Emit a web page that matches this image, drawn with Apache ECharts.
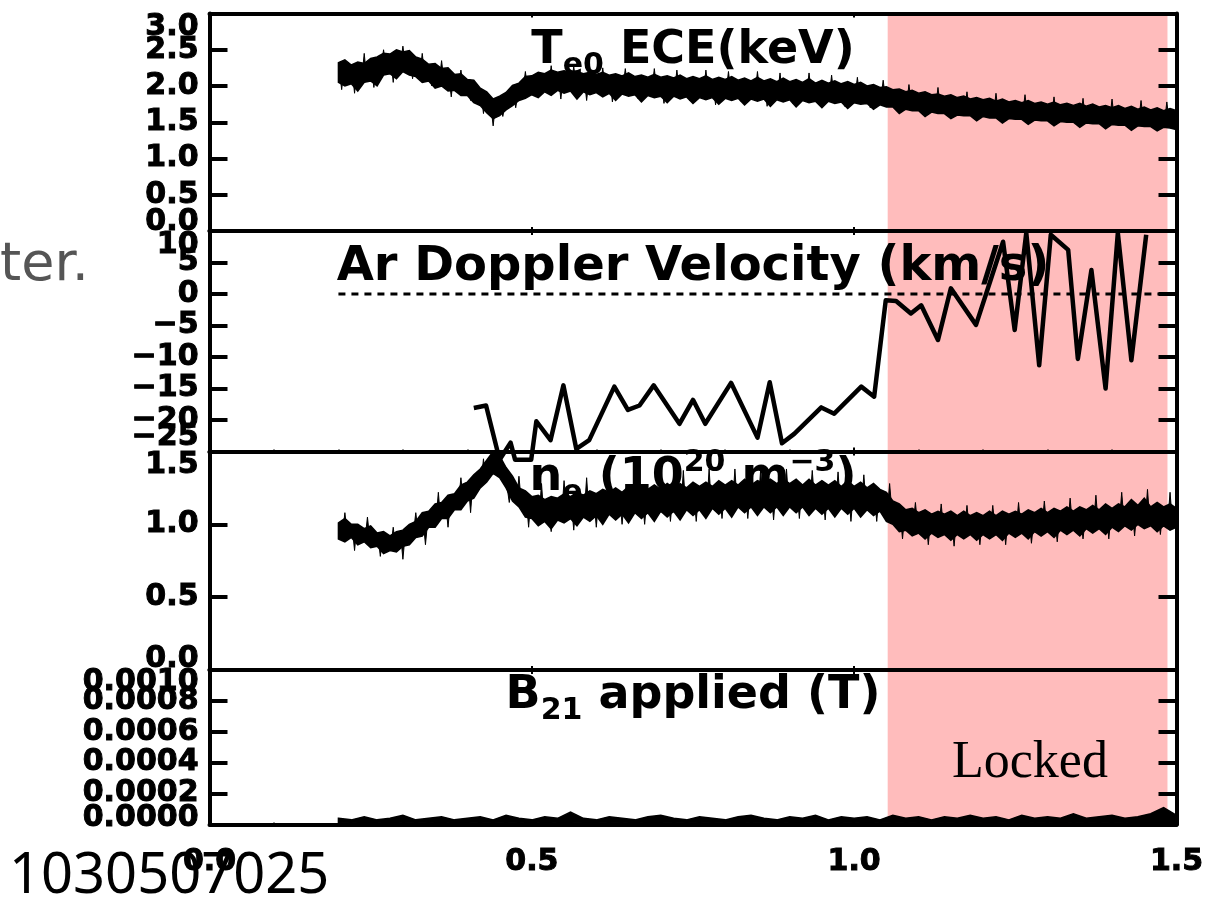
<!DOCTYPE html>
<html><head><meta charset="utf-8">
<script src="https://cdn.jsdelivr.net/npm/echarts@6/dist/echarts.min.js"></script>
<style>html,body{margin:0;padding:0;background:#fff;}#main{width:1215px;height:903px;}</style>
</head><body><div id="main"></div>
<script>
// ---------- data ----------
const T_BAND = [
0.20,0.21,0.22,0.23,0.24,0.25,0.26,0.27,0.28,0.29,
0.30,0.31,0.32,0.33,0.34,0.35,0.36,0.37,0.38,0.39,
0.40,0.41,0.42,0.43,0.44,0.45,0.46,0.47,0.48,0.49,
0.50,0.51,0.52,0.53,0.54,0.55,0.56,0.57,0.58,0.59,
0.60,0.61,0.62,0.63,0.64,0.65,0.66,0.67,0.68,0.69,
0.70,0.71,0.72,0.73,0.74,0.75,0.76,0.77,0.78,0.79,
0.80,0.81,0.82,0.83,0.84,0.85,0.86,0.87,0.88,0.89,
0.90,0.91,0.92,0.93,0.94,0.95,0.96,0.97,0.98,0.99,
1.00,1.01,1.02,1.03,1.04,1.05,1.06,1.07,1.08,1.09,
1.10,1.11,1.12,1.13,1.14,1.15,1.16,1.17,1.18,1.19,
1.20,1.21,1.22,1.23,1.24,1.25,1.26,1.27,1.28,1.29,
1.30,1.31,1.32,1.33,1.34,1.35,1.36,1.37,1.38,1.39,
1.40,1.41,1.42,1.43,1.44,1.45,1.46,1.47,1.48,1.49,
1.50];

const TE_UPPER = [
2.32,2.36,2.29,2.33,2.31,2.38,2.40,2.45,2.44,2.50,
2.47,2.49,2.40,2.37,2.30,2.31,2.24,2.25,2.16,2.17,
2.09,2.08,1.97,1.92,1.82,1.86,1.91,2.01,2.04,2.13,
2.14,2.19,2.17,2.22,2.19,2.21,2.19,2.20,2.17,2.19,
2.16,2.19,2.15,2.17,2.14,2.18,2.13,2.15,2.12,2.16,
2.12,2.14,2.11,2.15,2.10,2.13,2.10,2.14,2.09,2.12,
2.09,2.13,2.08,2.11,2.07,2.12,2.07,2.10,2.06,2.11,
2.06,2.09,2.05,2.10,2.04,2.08,2.04,2.07,2.03,2.06,
2.02,2.05,2.00,2.02,1.98,1.99,1.95,1.96,1.92,1.94,
1.90,1.92,1.88,1.89,1.86,1.88,1.84,1.86,1.82,1.84,
1.81,1.83,1.79,1.82,1.78,1.80,1.77,1.80,1.76,1.78,
1.75,1.78,1.74,1.76,1.73,1.76,1.72,1.75,1.71,1.73,
1.70,1.73,1.69,1.72,1.68,1.71,1.67,1.70,1.66,1.69,
1.66];
const TE_LOWER = [
2.05,2.00,2.03,1.93,2.05,2.07,2.00,2.15,2.17,2.10,
2.20,2.15,2.13,2.05,2.07,1.97,2.00,1.93,1.94,1.87,
1.87,1.77,1.73,1.63,1.55,1.59,1.67,1.73,1.80,1.83,
1.88,1.84,1.92,1.87,1.94,1.90,1.93,1.82,1.92,1.88,
1.91,1.85,1.90,1.80,1.89,1.86,1.88,1.78,1.87,1.84,
1.86,1.77,1.86,1.82,1.85,1.76,1.84,1.81,1.84,1.75,
1.83,1.80,1.83,1.74,1.82,1.79,1.82,1.72,1.81,1.78,
1.81,1.71,1.80,1.77,1.79,1.70,1.79,1.76,1.78,1.69,
1.77,1.75,1.76,1.68,1.74,1.71,1.71,1.62,1.68,1.66,
1.66,1.58,1.64,1.62,1.62,1.55,1.60,1.59,1.59,1.52,
1.58,1.56,1.56,1.49,1.55,1.54,1.54,1.47,1.53,1.52,
1.52,1.45,1.51,1.50,1.50,1.43,1.49,1.48,1.48,1.41,
1.47,1.46,1.46,1.39,1.45,1.44,1.44,1.38,1.43,1.42,
1.40];
const TE_SPIKE_T = [0.205,0.225,0.240,0.255,0.270,0.285,0.300,0.315,0.330,0.345,
0.360,0.375,0.390,0.405,0.425,0.440,0.455,0.475,0.490,0.510,
0.530,0.545,0.565,0.585,0.610,0.625,0.645,0.665,0.690,0.705,
0.725,0.745,0.770,0.785,0.805,0.825,0.850,0.865,0.885,0.905,
0.930,0.945,0.965,0.985,1.005,1.025,1.045,1.065,1.085,1.105,
1.130,1.150,1.175,1.195,1.220,1.240,1.265,1.285,1.310,1.330,
1.355,1.375,1.400,1.420,1.445,1.465,1.485,1.495];
const TE_SPIKE_V = [1.95,1.90,2.45,1.98,2.50,2.05,2.55,2.10,2.45,2.00,
2.35,1.85,2.22,1.80,1.62,1.45,1.58,1.70,2.20,1.85,
2.28,1.82,2.27,1.80,2.25,1.78,2.24,1.82,2.24,1.76,
2.22,1.80,2.22,1.74,2.20,1.78,2.20,1.72,2.18,1.76,
2.18,1.74,2.15,1.72,2.12,1.70,2.08,1.68,2.02,1.62,
1.98,1.62,1.92,1.58,1.90,1.55,1.88,1.55,1.85,1.50,
1.83,1.50,1.82,1.48,1.80,1.45,1.78,1.47];

const NE_UPPER = [
1.01,1.04,1.00,1.00,0.97,0.99,0.94,0.95,0.92,0.95,
0.96,1.00,1.02,1.08,1.09,1.14,1.15,1.20,1.21,1.27,
1.29,1.34,1.38,1.44,1.50,1.47,1.39,1.33,1.25,1.23,
1.19,1.20,1.17,1.19,1.18,1.21,1.19,1.22,1.20,1.23,
1.21,1.24,1.22,1.25,1.22,1.26,1.23,1.26,1.24,1.27,
1.24,1.28,1.25,1.28,1.25,1.29,1.26,1.29,1.26,1.30,
1.27,1.30,1.27,1.31,1.27,1.30,1.28,1.31,1.28,1.31,
1.28,1.31,1.27,1.31,1.27,1.30,1.27,1.30,1.26,1.30,
1.26,1.29,1.25,1.28,1.24,1.22,1.16,1.14,1.10,1.11,
1.08,1.10,1.07,1.09,1.07,1.09,1.06,1.09,1.06,1.08,
1.06,1.09,1.06,1.09,1.07,1.09,1.07,1.10,1.08,1.11,
1.08,1.11,1.09,1.12,1.09,1.12,1.10,1.13,1.10,1.14,
1.11,1.14,1.12,1.17,1.13,1.18,1.12,1.15,1.12,1.14,
1.11];
const NE_LOWER = [
0.90,0.88,0.91,0.86,0.88,0.84,0.85,0.80,0.82,0.81,
0.85,0.86,0.91,0.92,0.98,0.98,1.04,1.04,1.10,1.10,
1.16,1.18,1.25,1.29,1.35,1.32,1.25,1.16,1.12,1.05,
1.04,0.99,1.02,0.97,1.03,1.01,1.04,0.99,1.05,1.02,
1.06,1.00,1.07,1.03,1.07,1.01,1.08,1.04,1.08,1.02,
1.09,1.05,1.09,1.03,1.10,1.06,1.10,1.04,1.11,1.07,
1.11,1.05,1.12,1.08,1.12,1.06,1.12,1.08,1.12,1.06,
1.12,1.08,1.12,1.06,1.11,1.07,1.11,1.05,1.11,1.07,
1.11,1.05,1.10,1.06,1.09,1.02,1.00,0.95,0.96,0.92,
0.94,0.90,0.94,0.91,0.93,0.89,0.93,0.90,0.93,0.89,
0.93,0.90,0.93,0.89,0.94,0.91,0.94,0.90,0.95,0.92,
0.95,0.91,0.96,0.93,0.96,0.92,0.97,0.94,0.97,0.93,
0.98,0.95,0.99,0.96,1.00,0.97,0.99,0.95,0.99,0.96,
0.98];
const NE_SPIKE_T = [0.210,0.225,0.245,0.265,0.285,0.300,0.320,0.335,0.355,0.370,
0.390,0.405,0.425,0.445,0.465,0.480,0.495,0.515,0.530,0.550,
0.565,0.585,0.600,0.620,0.640,0.660,0.675,0.700,0.715,0.735,
0.755,0.775,0.795,0.815,0.835,0.855,0.875,0.895,0.915,0.935,
0.955,0.975,0.995,1.015,1.035,1.055,1.075,1.095,1.115,1.135,
1.155,1.175,1.195,1.215,1.235,1.255,1.275,1.295,1.315,1.335,
1.355,1.375,1.395,1.415,1.435,1.455,1.475,1.490];
const NE_SPIKE_V = [1.08,0.82,1.05,0.78,0.98,0.76,1.08,0.86,1.22,0.98,
1.32,1.08,1.45,1.53,1.15,1.33,0.98,1.28,0.95,1.30,
0.96,1.32,0.98,1.34,1.00,1.35,1.00,1.36,1.02,1.37,
1.02,1.38,1.04,1.38,1.04,1.38,1.03,1.38,1.04,1.37,
1.03,1.36,1.02,1.34,1.02,1.28,0.90,1.15,0.86,1.14,
0.85,1.13,0.86,1.13,0.86,1.15,0.87,1.16,0.88,1.18,
0.90,1.20,0.90,1.22,0.92,1.24,0.93,1.22];

const T_B = [
0.20,0.22,0.24,0.26,0.28,0.30,0.32,0.34,0.36,0.38,
0.40,0.42,0.44,0.46,0.48,0.50,0.52,0.54,0.56,0.58,
0.60,0.62,0.64,0.66,0.68,0.70,0.72,0.74,0.76,0.78,
0.80,0.82,0.84,0.86,0.88,0.90,0.92,0.94,0.96,0.98,
1.00,1.02,1.04,1.06,1.08,1.10,1.12,1.14,1.16,1.18,
1.20,1.22,1.24,1.26,1.28,1.30,1.32,1.34,1.36,1.38,
1.40,1.42,1.44,1.46,1.48,1.50];
const B_UPPER = [
4e-5,3e-5,5e-5,3e-5,4e-5,6e-5,3e-5,4e-5,5e-5,3e-5,
4e-5,5e-5,3e-5,6e-5,4e-5,3e-5,5e-5,4e-5,8e-5,4e-5,
3e-5,5e-5,4e-5,3e-5,5e-5,6e-5,4e-5,3e-5,5e-5,4e-5,
3e-5,5e-5,6e-5,4e-5,3e-5,5e-5,4e-5,6e-5,3e-5,5e-5,
4e-5,5e-5,3e-5,6e-5,4e-5,5e-5,3e-5,5e-5,4e-5,6e-5,
4e-5,5e-5,3e-5,6e-5,4e-5,5e-5,4e-5,7e-5,4e-5,5e-5,
6e-5,4e-5,5e-5,7e-5,11e-5,6e-5];
const B_LOWER = [
1.0e-5,1.2e-5,0.8e-5,1.0e-5,1.4e-5,0.9e-5,1.1e-5,1.0e-5,1.3e-5,0.8e-5,
1.0e-5,1.2e-5,0.9e-5,1.1e-5,1.0e-5,1.3e-5,0.8e-5,1.1e-5,1.2e-5,1.0e-5,
0.9e-5,1.1e-5,1.0e-5,1.3e-5,0.8e-5,1.0e-5,1.2e-5,0.9e-5,1.1e-5,1.0e-5,
1.2e-5,0.8e-5,1.1e-5,1.0e-5,1.3e-5,0.9e-5,1.0e-5,1.2e-5,0.8e-5,1.1e-5,
1.0e-5,1.3e-5,0.9e-5,1.1e-5,1.0e-5,1.2e-5,0.8e-5,1.1e-5,1.0e-5,1.3e-5,
0.9e-5,1.0e-5,1.2e-5,0.8e-5,1.1e-5,1.0e-5,1.3e-5,0.9e-5,1.1e-5,1.0e-5,
1.2e-5,1.0e-5,1.4e-5,1.1e-5,1.5e-5,1.2e-5];

const V_T = [0.410,0.429,0.450,0.467,0.474,0.499,0.507,0.529,0.549,0.569,
0.589,0.628,0.649,0.667,0.689,0.729,0.750,0.769,0.809,0.850,
0.869,0.888,0.907,0.949,0.969,1.011,1.031,1.049,1.065,1.088,
1.104,1.130,1.150,1.189,1.231,1.249,1.267,1.287,1.305,1.332,
1.347,1.368,1.390,1.409,1.430,1.453];
const V_VAL = [-18.1,-17.7,-26.3,-23.6,-26.3,-26.3,-20.2,-23.2,-14.5,-24.6,
-23.2,-14.7,-18.4,-17.7,-14.5,-20.6,-16.8,-20.6,-14.1,-22.8,
-14.0,-23.7,-22.2,-18.0,-19.0,-14.7,-16.3,-1.0,-1.1,-3.1,
-1.8,-7.3,0.9,-4.9,8.3,-5.7,9.7,-11.3,9.4,7.0,
-10.3,3.8,-15.0,9.7,-10.5,9.4];
const ZERO_T = [0.2, 1.5];
const ZERO_V = [0, 0];

const LOCK_START = 1.052, LOCK_END = 1.486;

const X_RANGE = {min: 0, max: 1.5, interval: 0.5};
const PANELS = [
  {min: 0,   max: 3,     interval: 0.5,    digits: 1, hi: 14, lo: 9},
  {min: -25, max: 10,    interval: 5,      digits: 0, hi: 14, lo: 14},
  {min: 0,   max: 1.5,   interval: 0.5,    digits: 1, hi: 14, lo: 11},
  {min: 0,   max: 0.001, interval: 0.0002, digits: 4, hi: 12, lo: 6}
];
const TITLES = [
  '{m|T}{sub|e0}{m| ECE(keV)}',
  '{m|Ar Doppler Velocity (km/s)}',
  '{m|n}{sub|e}{m| (10}{sup|20}{m| m}{sup|−3}{m|)}',
  '{m|B}{sub|21}{m| applied (T)}'
];

// ---------- layout / style ----------
const GRIDS = [
  {top: 13.5, height: 217.5},
  {top: 231,  height: 220.5},
  {top: 451.5, height: 218.5},
  {top: 670,  height: 154.5}
];
const TITLE_TOPS = [21, 238, 448, 666];
const TITLE_SIZES = [46, 48, 46, 46];
const LEFT = 209.5, RIGHT = 38.5;
const PINK = '#FFBCBC';
const LABEL_FONT = 'DejaVu Sans';
const AXW = 4;

const baseLbl = {fontFamily: LABEL_FONT, fontWeight: 'bold', fontSize: 30, color: '#000', textBorderColor: '#000', textBorderWidth: 1};
function fmtNum(v, p) {
  return (Math.abs(v) < 1e-12 ? 0 : v).toFixed(p.digits).replace('-', '\u2212');
}
function isEdge(v, p) {
  const eps = p.interval * 1e-6;
  if (Math.abs(v - p.max) < eps) return 'hi';
  if (Math.abs(v - p.min) < eps) return 'lo';
  return '';
}

const grid = [], xAxis = [], yAxis = [], series = [], title = [];
GRIDS.forEach((g, gi) => {
  grid.push({left: LEFT, right: RIGHT, top: g.top, height: g.height, outerBoundsMode: 'none', containLabel: false});
  const p = PANELS[gi];
  ['bottom', 'top'].forEach((pos, k) => {
    xAxis.push({
      gridIndex: gi, type: 'value', position: pos,
      min: X_RANGE.min, max: X_RANGE.max, interval: X_RANGE.interval, z: 10,
      axisLine: {show: true, onZero: false, lineStyle: {color: '#000', width: AXW}},
      axisTick: {show: true, inside: true, length: 4, lineStyle: {color: '#000', width: 2}},
      minorTick: {show: true, splitNumber: 5, length: 2, lineStyle: {color: '#000', width: 1.5}},
      splitLine: {show: false},
      axisLabel: {
        show: gi === 3 && k === 0, margin: 23, showMinLabel: true, showMaxLabel: true, hideOverlap: false,
        ...baseLbl, formatter: v => v.toFixed(1)
      }
    });
  });
  yAxis.push({
    gridIndex: gi, type: 'value', position: 'left',
    min: p.min, max: p.max, interval: p.interval, z: 10,
    axisLine: {show: true, onZero: false, lineStyle: {color: '#000', width: AXW}},
    axisTick: {show: true, inside: true, length: 18, lineStyle: {color: '#000', width: AXW}},
    splitLine: {show: false},
    axisLabel: {
      show: true, margin: 11, showMinLabel: false, showMaxLabel: false, hideOverlap: false,
      ...baseLbl, formatter: v => (isEdge(v, p) ? '' : fmtNum(v, p))
    }
  });
  yAxis.push({
    gridIndex: gi, type: 'value', position: 'right',
    min: p.min, max: p.max, interval: p.interval, z: 10,
    axisLine: {show: true, onZero: false, lineStyle: {color: '#000', width: AXW}},
    axisTick: {show: true, inside: true, length: 18, lineStyle: {color: '#000', width: AXW}},
    splitLine: {show: false},
    axisLabel: {show: false}
  });
  yAxis.push({
    gridIndex: gi, type: 'value', position: 'left',
    min: p.min, max: p.max, interval: p.interval, z: 10,
    axisLine: {show: false}, axisTick: {show: false}, splitLine: {show: false},
    axisLabel: {
      show: true, margin: 11, showMinLabel: true, showMaxLabel: true, hideOverlap: false,
      ...baseLbl,
      formatter: v => { const e = isEdge(v, p); return e ? '{' + e + '|' + fmtNum(v, p) + '}' : ''; },
      rich: {
        hi: {...baseLbl, padding: [p.hi * 2, 0, 0, 0]},
        lo: {...baseLbl, padding: [0, 0, p.lo * 2, 0]}
      }
    }
  });
  series.push({
    type: 'line', xAxisIndex: gi * 2, yAxisIndex: gi * 3, z: 0, silent: true,
    data: [[LOCK_START, p.min]], symbol: 'none', lineStyle: {opacity: 0},
    markArea: {silent: true, itemStyle: {color: PINK}, data: [[{xAxis: LOCK_START}, {xAxis: LOCK_END}]]}
  });
  const tf = {fontFamily: LABEL_FONT, fontWeight: 'bold', color: '#000'};
  const fs = TITLE_SIZES[gi];
  title.push({
    text: TITLES[gi], left: 693, top: TITLE_TOPS[gi], textAlign: 'center', padding: 0, z: 1,
    textStyle: {
      ...tf, fontSize: fs,
      rich: {
        m: {...tf, fontSize: fs, lineHeight: 60},
        sub: {...tf, fontSize: 30, lineHeight: 30, verticalAlign: 'bottom'},
        sup: {...tf, fontSize: 30, lineHeight: 36, verticalAlign: 'top'}
      }
    }
  });
});

function band(gi, ts, lo, up) {
  return {
    type: 'custom', coordinateSystem: 'cartesian2d', xAxisIndex: gi * 2, yAxisIndex: gi * 3,
    z: 3, silent: true, clip: true,
    data: [[ts[0], lo[0]]],
    renderItem: function (params, api) {
      const pts = [];
      for (let i = 0; i < ts.length; i++) pts.push(api.coord([ts[i], up[i]]));
      for (let i = ts.length - 1; i >= 0; i--) pts.push(api.coord([ts[i], lo[i]]));
      return {type: 'polygon', shape: {points: pts}, style: {fill: '#000', stroke: '#000', lineWidth: 1.5}};
    }
  };
}
function spikes(gi, spT, spV, ts, lo, up) {
  return {
    type: 'custom', coordinateSystem: 'cartesian2d', xAxisIndex: gi * 2, yAxisIndex: gi * 3,
    z: 3, silent: true, clip: true,
    data: spT.map((t, i) => [t, spV[i]]),
    renderItem: function (params, api) {
      const t = api.value(0), v = api.value(1);
      let k = 0, best = Infinity;
      for (let i = 0; i < ts.length; i++) { const d = Math.abs(ts[i] - t); if (d < best) { best = d; k = i; } }
      const mid = (up[k] + lo[k]) / 2;
      return {type: 'polygon', shape: {points: [api.coord([t - 0.003, mid]), api.coord([t, v]), api.coord([t + 0.003, mid])]},
              style: {fill: '#000', stroke: '#000', lineWidth: 1}};
    }
  };
}
series.push(band(0, T_BAND, TE_LOWER, TE_UPPER));
series.push(spikes(0, TE_SPIKE_T, TE_SPIKE_V, T_BAND, TE_LOWER, TE_UPPER));
series.push(band(2, T_BAND, NE_LOWER, NE_UPPER));
series.push(spikes(2, NE_SPIKE_T, NE_SPIKE_V, T_BAND, NE_LOWER, NE_UPPER));
series.push(band(3, T_B, B_LOWER, B_UPPER));
series.push({
  type: 'line', xAxisIndex: 2, yAxisIndex: 3, z: 4, silent: true,
  data: ZERO_T.map((t, i) => [t, ZERO_V[i]]), symbol: 'none',
  lineStyle: {color: '#000', width: 3, type: [7, 6]}
});
series.push({
  type: 'line', xAxisIndex: 2, yAxisIndex: 3, z: 4, silent: true, clip: false,
  data: V_T.map((t, i) => [t, V_VAL[i]]), symbol: 'none',
  lineStyle: {color: '#000', width: 4.5, join: 'round'}
});

const graphic = [
  {type: 'text', x: 0, y: 266, z: 20, style: {text: 'ter.', font: '54px "DejaVu Sans"', fill: '#555', textAlign: 'left', textVerticalAlign: 'middle', align: 'left', verticalAlign: 'middle'}},
  {type: 'text', x: 9, y: 877, z: 20, style: {text: '1030507025', font: '56px "Noto Sans"', fill: '#000', textAlign: 'left', textVerticalAlign: 'middle', align: 'left', verticalAlign: 'middle'}},
  {type: 'text', x: 952, y: 763, z: 5, style: {text: 'Locked', font: '52px "Liberation Serif"', fill: '#000', textAlign: 'left', textVerticalAlign: 'middle', align: 'left', verticalAlign: 'middle'}}
];

const chart = echarts.init(document.getElementById('main'), null, {renderer: 'canvas'});
chart.setOption({
  animation: false, backgroundColor: '#fff',
  grid, xAxis, yAxis, series, title, graphic
});
</script></body></html>
